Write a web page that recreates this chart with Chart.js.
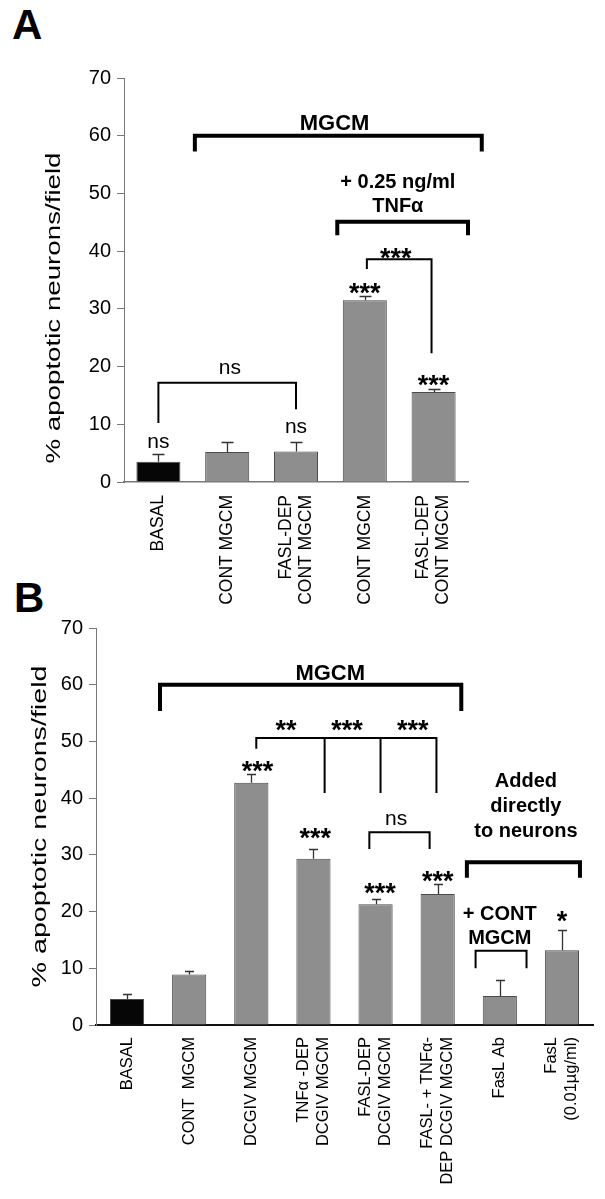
<!DOCTYPE html>
<html>
<head>
<meta charset="utf-8">
<script src="https://cdn.jsdelivr.net/npm/chart.js@4"></script>
<style>
  body { margin: 0; background: #fff; width: 605px; height: 1199px; position: relative; overflow: hidden; }
  canvas { position: absolute; left: 0; }
  #chartA { top: 0; }
  #chartB { top: 600px; }
  .letter { position: absolute; font: bold 42px 'Liberation Sans', Arial, sans-serif; line-height: 42px; }
</style>
</head>
<body>
<div class="letter" style="left:12px; top:4px;">A</div>
<div class="letter" style="left:14px; top:577px;">B</div>
<canvas id="chartA" width="605" height="620"></canvas>
<canvas id="chartB" width="605" height="599"></canvas>
<script>
const FONT = "'Liberation Sans', Arial, Helvetica, sans-serif";

// shared y axis
const yTicks = [0, 10, 20, 30, 40, 50, 60, 70];
const yTitle = '% apoptotic neurons/field';

// panel A
const labelsA = ['BASAL', 'CONT MGCM', ['FASL-DEP', 'CONT MGCM'], 'CONT MGCM', ['FASL-DEP', 'CONT MGCM']];
const valuesA = [3.5, 5.2, 5.3, 31.5, 15.6];
const errorsA = [1.3, 1.7, 1.6, 0.7, 0.5];

// panel B
const labelsB = ['BASAL', 'CONT  MGCM', 'DCGIV MGCM', ['TNFα -DEP', 'DCGIV MGCM'], ['FASL-DEP', 'DCGIV MGCM'],
                 ['FASL- + TNFα-', 'DEP DCGIV MGCM'], 'FasL Ab', ['FasL', '(0.01µg/ml)']];
const valuesB = [4.6, 8.9, 42.7, 29.3, 21.3, 23.1, 5.1, 13.2];
const errorsB = [0.8, 0.7, 1.6, 1.7, 0.9, 1.8, 2.8, 3.6];

// significance brackets: x in category units, y in axis units, drops go down to a y value
const bracketsA = [
  { x1: 0.53, x2: 4.7, y: 60, drops: [[0.53, 57.6], [4.7, 57.6]], w: 4 },
  { x1: 2.6, x2: 4.5, y: 45.1, drops: [[2.6, 43.1], [4.5, 43.1]], w: 4 },
  { x1: 3.03, x2: 3.97, y: 38.6, drops: [[3.03, 37.1], [3.97, 22.5]], w: 2 },
  { x1: 0, x2: 2.0, y: 17.2, drops: [[0, 10.4], [2.0, 12.8]], w: 2 }
];
const notesA = [
  { t: 'MGCM', x: 2.56, y: 62.4, f: 'bold 22px' },
  { t: '+ 0.25 ng/ml', x: 3.48, y: 52.2, f: 'bold 20px' },
  { t: 'TNFα', x: 3.48, y: 48.0, f: 'bold 20px' },
  { t: '***', x: 3.45, y: 40.0, star: true },
  { t: '***', x: 3, y: 33.8, star: true },
  { t: '***', x: 4, y: 17.9, star: true },
  { t: 'ns', x: 1.04, y: 19.6, f: '21px', low: true },
  { t: 'ns', x: 0, y: 6.8, f: '21px', low: true },
  { t: 'ns', x: 2, y: 9.5, f: '21px', low: true }
];

const bracketsB = [
  { x1: 0.53, x2: 5.38, y: 60, drops: [[0.53, 55.7], [5.38, 55.7]], w: 4 },
  { x1: 2.08, x2: 4.98, y: 50.6, drops: [[2.08, 48.9], [3.18, 41.1], [4.08, 41.1], [4.98, 41.1]], w: 2 },
  { x1: 3.9, x2: 4.87, y: 34.0, drops: [[3.9, 31.2], [4.87, 31.2]], w: 2 },
  { x1: 5.47, x2: 7.29, y: 28.7, drops: [[5.47, 26.3], [7.29, 26.3]], w: 4 },
  { x1: 5.61, x2: 6.43, y: 13.1, drops: [[5.61, 10.2], [6.43, 10.2]], w: 2 }
];
const notesB = [
  { t: 'MGCM', x: 3.27, y: 62.3, f: 'bold 22px' },
  { t: '**', x: 2.56, y: 53.1, star: true },
  { t: '***', x: 3.54, y: 53.1, star: true },
  { t: '***', x: 4.6, y: 53.1, star: true },
  { t: '***', x: 2.1, y: 45.9, star: true },
  { t: '***', x: 3.03, y: 34.2, star: true },
  { t: '***', x: 4.07, y: 24.5, star: true },
  { t: '***', x: 5, y: 26.5, star: true },
  { t: 'ns', x: 4.33, y: 36.2, f: '21px', low: true },
  { t: 'Added', x: 6.42, y: 43.2, f: 'bold 20px' },
  { t: 'directly', x: 6.42, y: 38.8, f: 'bold 20px' },
  { t: 'to neurons', x: 6.42, y: 34.4, f: 'bold 20px' },
  { t: '+ CONT', x: 6.0, y: 19.8, f: 'bold 20px' },
  { t: 'MGCM', x: 6.0, y: 15.5, f: 'bold 20px' },
  { t: '*', x: 7, y: 19.4, star: true }
];

// error bars, rotated category labels, axis title, brackets and text
function decorPlugin(opt) {
  return {
    id: 'decor',
    afterDatasetsDraw(chart) {
      const { ctx, scales: { y } } = chart;
      const vals = chart.data.datasets[0].data;
      ctx.save();
      ctx.strokeStyle = '#333';
      ctx.lineWidth = 1.3;
      chart.getDatasetMeta(0).data.forEach((bar, i) => {
        const y0 = y.getPixelForValue(vals[i]);
        const y1 = Math.round(y.getPixelForValue(vals[i] + opt.errors[i])) + 0.5;
        const cx = Math.round(bar.x) + 0.5;
        ctx.beginPath();
        ctx.moveTo(cx, y0);
        ctx.lineTo(cx, y1);
        ctx.moveTo(cx - opt.cap, y1);
        ctx.lineTo(cx + opt.cap, y1);
        ctx.stroke();
      });
      ctx.restore();
    },
    afterDraw(chart) {
      const { ctx, chartArea: a, scales: { x, y } } = chart;
      ctx.save();
      ctx.fillStyle = '#000';

      // category labels
      ctx.font = opt.labelSize + 'px ' + FONT;
      ctx.textAlign = 'right';
      ctx.textBaseline = 'middle';
      chart.data.labels.forEach((lab, i) => {
        const lines = [].concat(lab);
        ctx.save();
        ctx.translate(x.getPixelForValue(i), a.bottom + opt.labelPad);
        ctx.rotate(-Math.PI / 2);
        lines.forEach((s, j) => ctx.fillText(s, 0, (j - (lines.length - 1) / 2) * 20));
        ctx.restore();
      });

      // y axis title
      ctx.save();
      ctx.font = '20px ' + FONT;
      ctx.textAlign = 'center';
      ctx.translate(a.left - opt.titleDx, (a.top + a.bottom) / 2 + opt.titleDy);
      ctx.rotate(-Math.PI / 2);
      const tw = ctx.measureText(yTitle).width;
      ctx.scale(opt.titleLen / tw, 1);
      ctx.fillText(yTitle, 0, 0);
      ctx.restore();

      // brackets
      ctx.strokeStyle = '#000';
      ctx.lineCap = 'square';
      opt.brackets.forEach(b => {
        const yy = y.getPixelForValue(b.y);
        ctx.lineWidth = b.w;
        ctx.beginPath();
        ctx.moveTo(x.getPixelForValue(b.x1), yy);
        ctx.lineTo(x.getPixelForValue(b.x2), yy);
        b.drops.forEach(([dx, dy]) => {
          const px = x.getPixelForValue(dx);
          ctx.moveTo(px, yy);
          ctx.lineTo(px, y.getPixelForValue(dy));
        });
        ctx.stroke();
      });

      // text notes
      ctx.textAlign = 'center';
      ctx.textBaseline = 'alphabetic';
      opt.notes.forEach(n => {
        const size = n.star ? 27 : parseFloat(n.f.replace('bold', ''));
        ctx.font = (n.star ? 'bold 27px ' : n.f + ' ') + FONT;
        const k = n.star ? 0.575 : (n.low ? 0.26 : 0.36);
        ctx.fillText(n.t, x.getPixelForValue(n.x), y.getPixelForValue(n.y) + k * size);
      });
      ctx.restore();
    }
  };
}

function makeChart(id, cfg) {
  return new Chart(document.getElementById(id), {
    type: 'bar',
    data: {
      labels: cfg.labels,
      datasets: [{
        data: cfg.values,
        backgroundColor: cfg.values.map((v, i) => i === 0 ? '#060606' : '#8e8e8e'),
        borderColor: '#4a4a4a',
        borderWidth: 1,
        barPercentage: cfg.barPct,
        categoryPercentage: 1
      }]
    },
    options: {
      responsive: false,
      animation: false,
      devicePixelRatio: 1,
      layout: { padding: { top: cfg.padTop, right: cfg.padRight, left: 0, bottom: 0 } },
      plugins: { legend: { display: false }, tooltip: { enabled: false } },
      scales: {
        x: {
          ticks: { display: false },
          grid: { display: false },
          border: { color: cfg.xAxisColor, width: cfg.xAxisWidth },
          afterFit: s => { s.height = cfg.xHeight; }
        },
        y: {
          min: 0,
          max: 70,
          afterBuildTicks: s => { s.ticks = yTicks.map(v => ({ value: v })); },
          afterFit: s => { s.width = cfg.yWidth; },
          ticks: { color: '#000', font: { family: FONT, size: 20 }, padding: 6 },
          grid: { drawOnChartArea: false, drawTicks: true, tickLength: 7, color: '#777' },
          border: { color: '#777', width: 1 }
        }
      }
    },
    plugins: [decorPlugin(cfg.decor)]
  });
}

makeChart('chartA', {
  labels: labelsA, values: valuesA, barPct: 0.64,
  padTop: 78, padRight: 137, yWidth: 124, xHeight: 138,
  xAxisColor: '#777', xAxisWidth: 1.5,
  decor: { errors: errorsA, cap: 6, labelPad: 13, labelSize: 17.5, titleDx: 70, titleDy: 28, titleLen: 311,
           brackets: bracketsA, notes: notesA }
});

makeChart('chartB', {
  labels: labelsB, values: valuesB, barPct: 0.55,
  padTop: 28, padRight: 12, yWidth: 96, xHeight: 174,
  xAxisColor: '#111', xAxisWidth: 2,
  decor: { errors: errorsB, cap: 4.5, labelPad: 12, labelSize: 16.5, titleDx: 56, titleDy: 0, titleLen: 322,
           brackets: bracketsB, notes: notesB }
});
</script>
</body>
</html>
